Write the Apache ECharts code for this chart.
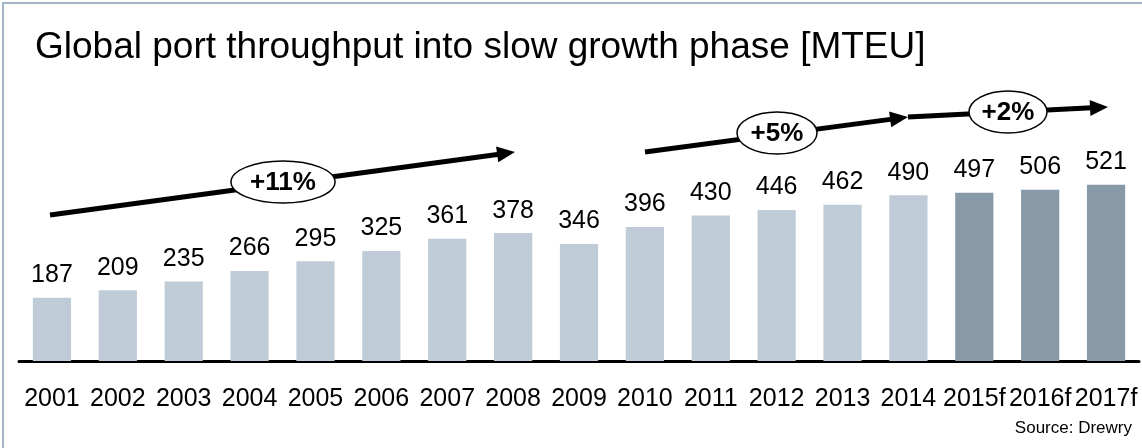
<!DOCTYPE html>
<html>
<head>
<meta charset="utf-8">
<script src="https://cdn.jsdelivr.net/npm/echarts@6/dist/echarts.min.js"></script>
<style>
  html, body { margin: 0; padding: 0; background: #fff; }
  #chart { width: 1142px; height: 448px; }
</style>
</head>
<body>
<div id="chart"></div>
<script>
  var years = ['2001','2002','2003','2004','2005','2006','2007','2008','2009','2010','2011','2012','2013','2014','2015f','2016f','2017f'];
  var throughput = [187, 209, 235, 266, 295, 325, 361, 378, 346, 396, 430, 446, 462, 490, 497, 506, 521];
  var forecast = [false,false,false,false,false,false,false,false,false,false,false,false,false,false,true,true,true];

  var font = '"Liberation Sans", Arial, sans-serif';
  var chart = echarts.init(document.getElementById('chart'));

  // growth arrow with head at (x2,y2)
  function arrow(x1, y1, x2, y2) {
    var dx = x2 - x1, dy = y2 - y1;
    var len = Math.sqrt(dx * dx + dy * dy);
    var ux = dx / len, uy = dy / len;
    var hl = 18, hw = 8;
    var bx = x2 - ux * hl, by = y2 - uy * hl;
    return [
      { type: 'line', shape: { x1: x1, y1: y1, x2: bx + ux * 2, y2: by + uy * 2 }, style: { stroke: '#000', lineWidth: 5 } },
      { type: 'polygon', shape: { points: [[x2, y2], [bx - uy * hw, by + ux * hw], [bx + uy * hw, by - ux * hw]] }, style: { fill: '#000' } }
    ];
  }
  function badge(cx, cy, rx, ry, txt) {
    return [
      { type: 'ellipse', shape: { cx: cx, cy: cy, rx: rx, ry: ry }, style: { fill: '#fff', stroke: '#000', lineWidth: 1.5 } },
      { type: 'text', x: cx, y: cy + 1, style: { text: txt, font: 'bold 26px ' + font, fill: '#000', textAlign: 'center', textVerticalAlign: 'middle' } }
    ];
  }

  var graphics = [
    { type: 'rect', shape: { x: 3, y: 3, width: 1150, height: 460 }, style: { fill: 'none', stroke: '#a3b3c3', lineWidth: 2 }, silent: true },
    { type: 'text', right: 10, top: 420, style: { text: 'Source: Drewry', font: '17px ' + font, fill: '#000' } }
  ];
  graphics = graphics
    .concat(arrow(50, 215, 515, 152))
    .concat(badge(283, 182, 52, 21, '+11%'))
    .concat(arrow(645, 152, 908, 117))
    .concat(badge(777, 133, 40, 21, '+5%'))
    .concat(arrow(908, 117, 1108, 107))
    .concat(badge(1008, 112, 39, 21, '+2%'));

  var option = {
    animation: false,
    title: {
      text: 'Global port throughput into slow growth phase [MTEU]',
      left: 30,
      top: 24,
      textStyle: { fontFamily: font, fontSize: 37, fontWeight: 'normal', color: '#000' }
    },
    grid: { left: 19, right: 3, top: 158, bottom: 87 },
    xAxis: {
      type: 'category',
      data: years,
      axisLine: { lineStyle: { color: '#000', width: 3 } },
      axisTick: { show: false },
      axisLabel: { color: '#000', fontFamily: font, fontSize: 25, margin: 26, interval: 0 }
    },
    yAxis: {
      type: 'value',
      min: 0,
      max: 600,
      show: false,
      splitLine: { show: false }
    },
    series: [{
      type: 'bar',
      barCategoryGap: '42%',
      data: throughput.map(function (v, i) {
        return { value: v, itemStyle: { color: forecast[i] ? '#8899a8' : '#bfccd7' } };
      }),
      label: {
        show: true,
        position: 'top',
        distance: 10,
        color: '#000',
        fontFamily: font,
        fontSize: 25
      }
    }],
    graphic: graphics
  };
  chart.setOption(option);
</script>
</body>
</html>
